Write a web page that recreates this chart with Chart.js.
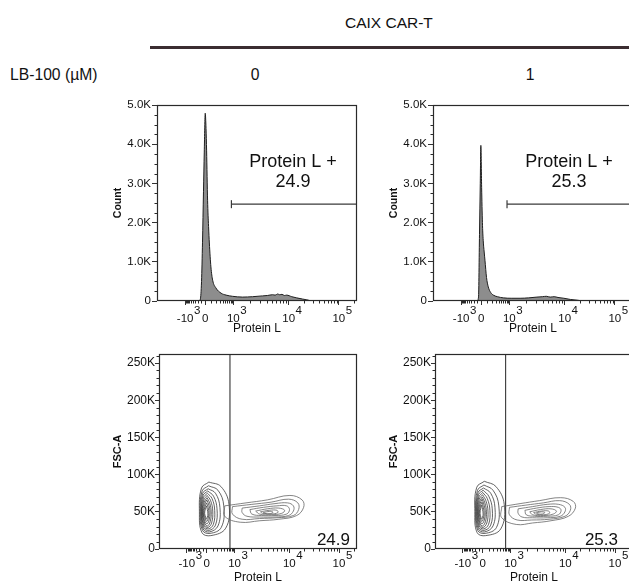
<!DOCTYPE html>
<html>
<head>
<meta charset="utf-8">
<script src="https://cdn.jsdelivr.net/npm/chart.js@4.4.1/dist/chart.umd.min.js"></script>
<style>
  html, body { margin: 0; padding: 0; background: #fff; }
  body { width: 629px; height: 581px; overflow: hidden; position: relative; font-family: "Liberation Sans", Arial, sans-serif; color: #111; }
  .lbl { position: absolute; white-space: nowrap; line-height: 1; }
  .panel { position: absolute; width: 270px; height: 245px; }
</style>
</head>
<body>
<div class="lbl" style="left:345px; top:15px; font-size:15.5px;">CAIX CAR-T</div>
<div style="position:absolute; left:150px; top:46px; width:490px; height:3px; background:#3b2d31;"></div>
<div class="lbl" style="left:10px; top:67px; font-size:15.7px;">LB-100 (µM)</div>
<div id="doses"></div>

<div class="panel" style="left:99px; top:95px;"><canvas id="hist0" width="270" height="245"></canvas></div>
<div class="panel" style="left:375px; top:95px;"><canvas id="hist1" width="270" height="245"></canvas></div>
<div class="panel" style="left:99px; top:344px;"><canvas id="cont0" width="270" height="245"></canvas></div>
<div class="panel" style="left:375px; top:344px;"><canvas id="cont1" width="270" height="245"></canvas></div>

<script>
// LB-100 doses (µM), one column each
const doses = ['0', '1'];
const gatePercent = ['24.9', '25.3'];

// x axis: Protein L in display channels (0-1024, biexponential)
const xTickPos = [144, 247, 391, 674, 931];
const xTickBase = ['-10', '0', '10', '10', '10'];
const xTickExp = ['3', '', '3', '4', '5'];

// histogram y axis (Count)
const histYTicks = [0, 1000, 2000, 3000, 4000, 5000];
const histYLabels = ['0', '1.0K', '2.0K', '3.0K', '4.0K', '5.0K'];

// contour y axis (FSC-A, thousands)
const fscTicks = [0, 50, 100, 150, 200, 250];
const fscLabels = ['0', '50K', '100K', '150K', '200K', '250K'];

// histogram, 0 µM
const histX0 = [0, 215, 222, 228, 233, 238, 242, 247, 251, 254, 259, 264, 268, 276, 285, 302, 328, 354, 386, 437, 489, 540, 565, 592, 605, 618, 628, 640, 652, 664, 690, 715, 745, 767, 798, 1024];
const histCount0 = [0, 0, 50, 500, 1500, 2800, 3800, 4790, 4400, 3830, 2570, 1900, 1480, 870, 530, 330, 200, 150, 120, 100, 110, 130, 140, 160, 150, 180, 160, 170, 140, 150, 110, 80, 50, 30, 0, 0];
// histogram, 1 µM
const histX1 = [0, 215, 226, 233, 238, 242, 245, 249, 253, 257, 262, 266, 274, 283, 295, 309, 330, 360, 400, 446, 490, 532, 560, 580, 600, 620, 640, 670, 703, 740, 771, 1024];
const histCount1 = [0, 0, 0, 100, 1700, 3000, 3970, 2900, 2000, 1550, 1250, 1040, 600, 360, 220, 150, 110, 80, 70, 70, 80, 100, 110, 120, 100, 110, 90, 70, 40, 20, 0, 0];

// Protein L+ gate
const histGateStart = [381, 379];
const histGateCount = [2470, 2470];
const contourGateX = [367, 365];

// contour lines [channel, FSC-A K], 0 µM
const leftContours0 = [
  [[258, 90], [320, 84], [362, 60], [345, 28], [268, 18], [222, 22], [209, 50], [220, 82]],
  [[256, 85], [305, 79], [335, 58], [322, 29], [264, 21], [225, 25], [213, 50], [223, 78]],
  [[254, 81], [292, 75], [315, 56], [305, 31], [261, 23], [228, 27], [216, 50], [226, 75]],
  [[252, 78], [282, 71], [300, 54], [292, 32], [258, 25], [230, 29], [219, 50], [228, 72]],
  [[250, 75], [274, 68], [288, 52], [281, 33], [255, 27], [232, 31], [221, 50], [230, 69]],
  [[249, 72], [267, 65], [278, 51], [272, 35], [253, 29], [234, 33], [224, 50], [232, 66]],
  [[248, 69], [262, 62], [270, 50], [265, 37], [251, 31], [236, 35], [226, 50], [234, 63]],
  [[247, 66], [258, 59], [264, 49], [259, 39], [249, 34], [238, 37], [229, 49], [236, 60]],
  [[246, 62], [254, 56], [258, 48], [254, 41], [247, 37], [240, 40], [232, 48], [238, 57]],
  [[245, 58], [250, 53], [253, 47], [250, 43], [245, 40], [241, 43], [236, 48], [240, 54]]
];
const rightContours0 = [
  [[340, 58], [450, 62], [560, 66], [677, 72], [740, 66], [748, 56], [712, 45], [620, 40], [522, 38], [420, 36], [340, 44]],
  [[380, 57], [480, 60], [580, 63], [670, 67], [718, 62], [722, 53], [695, 45], [610, 42], [520, 41], [430, 40], [380, 47]],
  [[430, 55], [520, 58], [600, 61], [665, 62], [695, 58], [695, 51], [670, 45], [600, 43], [520, 43], [455, 44], [430, 49]],
  [[470, 53], [540, 56], [610, 58], [660, 58], [675, 53], [660, 47], [600, 45], [530, 45], [480, 47]],
  [[500, 51], [560, 54], [620, 55], [650, 52], [635, 48], [580, 46], [520, 47]],
  [[525, 50], [570, 52], [610, 52], [615, 49], [580, 47], [535, 48]],
  [[540, 49], [570, 50.5], [590, 49.5], [575, 47.5], [548, 47.8]]
];
// contour lines, 1 µM
const leftContours1 = [
  [[255, 91], [315, 84], [358, 60], [340, 27], [262, 18], [218, 22], [206, 50], [216, 83]],
  [[253, 86], [300, 79], [330, 58], [318, 29], [259, 21], [221, 25], [210, 50], [220, 79]],
  [[251, 82], [288, 75], [310, 56], [300, 31], [256, 23], [224, 27], [213, 50], [223, 76]],
  [[249, 79], [278, 71], [296, 54], [288, 32], [253, 25], [226, 29], [216, 50], [225, 73]],
  [[247, 76], [270, 68], [284, 52], [277, 33], [250, 27], [228, 31], [218, 50], [227, 70]],
  [[246, 73], [263, 65], [274, 51], [268, 35], [248, 29], [230, 33], [221, 50], [229, 67]],
  [[245, 70], [258, 62], [266, 50], [261, 37], [246, 31], [232, 35], [223, 50], [231, 64]],
  [[244, 67], [254, 59], [260, 49], [255, 39], [244, 34], [234, 37], [226, 49], [233, 61]],
  [[243, 63], [250, 56], [254, 48], [250, 41], [242, 37], [236, 40], [229, 48], [235, 58]],
  [[242, 59], [246, 53], [249, 47], [246, 43], [241, 40], [237, 43], [233, 48], [237, 55]]
];
const rightContours1 = [
  [[345, 57], [440, 61], [540, 65], [650, 69], [715, 64], [726, 55], [690, 44], [600, 38], [505, 35], [420, 33], [345, 42]],
  [[385, 56], [470, 59], [560, 62], [645, 65], [695, 60], [700, 52], [672, 44], [590, 40], [500, 39], [425, 39], [385, 46]],
  [[430, 54], [505, 57], [580, 60], [640, 60], [672, 56], [672, 50], [648, 44], [580, 42], [505, 42], [450, 43], [430, 48]],
  [[465, 52], [525, 55], [590, 57], [638, 56], [652, 52], [638, 46], [580, 44], [515, 44], [472, 46]],
  [[490, 50], [545, 53], [600, 54], [628, 51], [612, 47], [560, 45], [505, 46]],
  [[510, 49], [550, 51], [588, 51], [592, 48], [560, 46], [520, 47]],
  [[525, 48.5], [550, 50], [568, 49], [555, 47], [532, 47.2]]
];

const FONT = '"Liberation Sans", Arial, sans-serif';
Chart.defaults.font.family = FONT;
Chart.defaults.color = '#111';

// dose labels above each column
const doseX = [255, 530];
doses.forEach((d, i) => {
  const el = document.createElement('div');
  el.className = 'lbl';
  el.style.cssText = `left:${doseX[i]}px; top:67px; font-size:15.7px; transform:translateX(-50%);`;
  el.textContent = d;
  document.getElementById('doses').appendChild(el);
});

// minor ticks of the biexponential axis
const xMinorTicks = (() => {
  const out = [];
  const [neg, zero, d3, d4, d5] = xTickPos;
  for (let k = 2; k <= 9; k++) {
    out.push(d3 + (d4 - d3) * Math.log10(k), d4 + (d5 - d4) * Math.log10(k));
  }
  out.push(d5 + (d5 - d4) * Math.log10(2));
  for (let k = 1; k <= 9; k++) {
    const f = Math.asinh(k * 0.5) / Math.asinh(5);
    out.push(zero + (d3 - zero) * f, zero - (zero - neg) * f);
  }
  return out;
})();
const histYMinor = [];
for (let v = 250; v < 5000; v += 250) if (v % 1000) histYMinor.push(v);
const fscMinor = [];
for (let v = 10; v < 262; v += 10) if (v % 50) fscMinor.push(v);

// frame, minor ticks, exponent tick labels and gate texts
const flowDecor = {
  id: 'flowDecor',
  afterDraw(chart, args, o) {
    const { ctx, chartArea: a, scales: { x, y } } = chart;
    ctx.save();
    ctx.strokeStyle = '#2a2a2a';
    ctx.lineWidth = 1.2;
    ctx.strokeRect(Math.round(a.left) + 0.5, Math.round(a.top) + 0.5, Math.round(a.right - a.left) - 1, Math.round(a.bottom - a.top) - 1);

    ctx.lineWidth = 1;
    ctx.beginPath();
    xMinorTicks.forEach(v => {
      const px = Math.round(x.getPixelForValue(v)) + 0.5;
      ctx.moveTo(px, a.bottom); ctx.lineTo(px, a.bottom + 2.5);
    });
    o.yMinor.forEach(v => {
      const py = Math.round(y.getPixelForValue(v)) + 0.5;
      ctx.moveTo(a.left, py); ctx.lineTo(a.left - 2.5, py);
    });
    ctx.stroke();

    ctx.fillStyle = '#111';
    ctx.textBaseline = 'alphabetic';
    xTickPos.forEach((v, i) => {
      const px = x.getPixelForValue(v);
      ctx.font = `11.5px ${FONT}`;
      ctx.textAlign = 'center';
      ctx.fillText(xTickBase[i], px, a.bottom + o.baseDy);
      if (xTickExp[i]) {
        const w = ctx.measureText(xTickBase[i]).width;
        ctx.textAlign = 'left';
        ctx.fillText(xTickExp[i], px + w / 2 + 0.5, a.bottom + o.expDy);
      }
    });

    (o.notes || []).forEach(n => {
      ctx.font = `${n.size}px ${FONT}`;
      ctx.textAlign = n.align;
      const px = n.align === 'right' ? a.right - n.dx : a.left + n.dx;
      const py = n.fromBottom ? a.bottom - n.dy : a.top + n.dy;
      ctx.fillText(n.text, px, py);
    });
    ctx.restore();
  }
};

const xScale = (height) => ({
  type: 'linear', min: 0, max: 1024,
  afterBuildTicks: s => { s.ticks = xTickPos.map(v => ({ value: v })); },
  ticks: { display: false },
  grid: { display: true, drawOnChartArea: false, drawTicks: true, tickLength: 4, color: '#333' },
  border: { display: false },
  afterFit: s => { s.height = height; },
  title: { display: true, text: 'Protein L', font: { size: 12 }, padding: { top: 0, bottom: 4.5 } }
});

// Histograms: Count vs Protein L
const makeHist = (id, xs, counts, i) => new Chart(document.getElementById(id), {
  type: 'line',
  data: {
    datasets: [{
      data: xs.map((v, k) => ({ x: v, y: counts[k] })),
      borderColor: '#1e1e1e',
      borderWidth: 1,
      backgroundColor: '#8d8d8d',
      fill: 'origin',
      pointRadius: 0,
      cubicInterpolationMode: 'monotone'
    }, {
      data: [{ x: histGateStart[i], y: histGateCount[i] }, { x: 1024, y: histGateCount[i] }],
      borderColor: '#3a3a3a',
      borderWidth: 1.2,
      pointStyle: 'line',
      rotation: 90,
      pointRadius: 4,
      pointBorderWidth: 1.2,
      pointBorderColor: '#3a3a3a',
      fill: false
    }]
  },
  options: {
    responsive: false, animation: false, events: [],
    layout: { padding: { top: 10, right: 12, left: 0, bottom: 0 } },
    plugins: {
      legend: { display: false }, tooltip: { enabled: false },
      flowDecor: {
        yMinor: histYMinor, baseDy: 21, expDy: 12.5,
        notes: [
          { text: 'Protein L +', size: 18, align: 'center', dx: 136, dy: 62 },
          { text: gatePercent[i], size: 18, align: 'center', dx: 136, dy: 82 }
        ]
      }
    },
    scales: {
      x: xScale(39),
      y: {
        min: 0, max: 5000,
        afterBuildTicks: s => { s.ticks = histYTicks.map(v => ({ value: v })); },
        ticks: { callback: (v, k) => histYLabels[k], font: { size: 11.5 }, padding: 1 },
        grid: { display: true, drawOnChartArea: false, tickLength: 5, color: '#333' },
        border: { display: false },
        afterFit: s => { s.width = 58; },
        title: { display: true, text: 'Count', font: { size: 10.5, weight: 'bold' }, padding: { top: 12.5, bottom: 0 } }
      }
    }
  },
  plugins: [flowDecor]
});

// Contour plots: FSC-A vs Protein L
const loopSets = (loops, color) => loops.map(pts => ({
  data: [...pts, pts[0]].map(([x, y]) => ({ x, y })),
  showLine: true, borderColor: color, borderWidth: 0.8, pointRadius: 0, tension: 0.4, fill: false
}));

const makeContour = (id, leftLoops, rightLoops, i) => new Chart(document.getElementById(id), {
  type: 'scatter',
  data: {
    datasets: [
      ...loopSets(rightLoops, '#666'),
      ...loopSets(leftLoops, '#3c3c3c'),
      {
        data: [{ x: contourGateX[i], y: 0 }, { x: contourGateX[i], y: 262.144 }],
        showLine: true, borderColor: '#444', borderWidth: 1.2, pointRadius: 0
      }
    ]
  },
  options: {
    responsive: false, animation: false, events: [],
    layout: { padding: { top: 10, right: 12, left: 0, bottom: 0 } },
    plugins: {
      legend: { display: false }, tooltip: { enabled: false },
      flowDecor: {
        yMinor: fscMinor, baseDy: 18, expDy: 10,
        notes: [{ text: gatePercent[i], size: 17, align: 'right', dx: i === 0 ? 7 : 15, dy: 4, fromBottom: true }]
      }
    },
    scales: {
      x: xScale(40),
      y: {
        min: 0, max: 262.144,
        afterBuildTicks: s => { s.ticks = fscTicks.map(v => ({ value: v })); },
        ticks: { callback: (v, k) => fscLabels[k], font: { size: 12 }, padding: 0 },
        grid: { display: true, drawOnChartArea: false, tickLength: 4, color: '#333' },
        border: { display: false },
        afterFit: s => { s.width = 60; },
        title: { display: true, text: 'FSC-A', font: { size: 11, weight: 'bold' }, padding: { top: 12, bottom: 0 } }
      }
    }
  },
  plugins: [flowDecor]
});

makeHist('hist0', histX0, histCount0, 0);
makeHist('hist1', histX1, histCount1, 1);
makeContour('cont0', leftContours0, rightContours0, 0);
makeContour('cont1', leftContours1, rightContours1, 1);
</script>
</body>
</html>
